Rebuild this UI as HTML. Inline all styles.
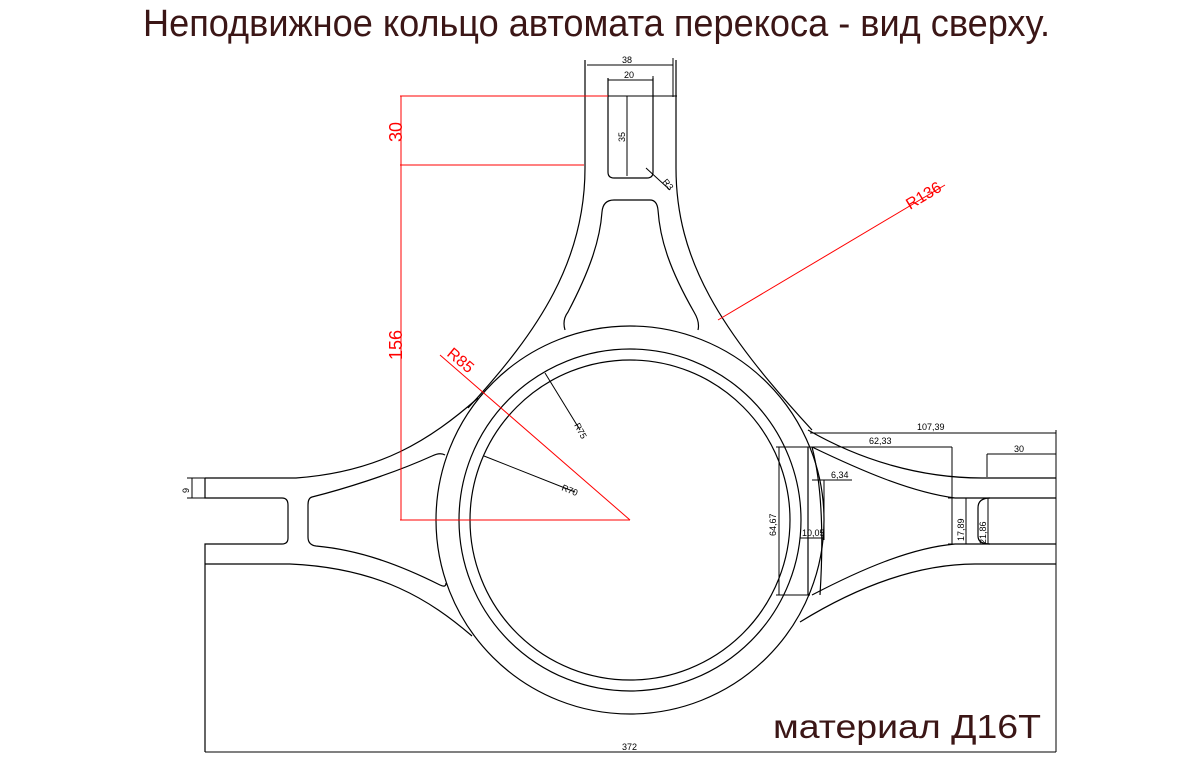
<!DOCTYPE html>
<html><head><meta charset="utf-8"><style>
html,body{margin:0;padding:0;background:#fff;}
svg{display:block;}
</style></head><body>
<svg width="1182" height="784" viewBox="0 0 1182 784" xmlns="http://www.w3.org/2000/svg" font-family="Liberation Sans, sans-serif">
<text x="143" y="36" font-size="38" fill="#3b1616" textLength="907" lengthAdjust="spacingAndGlyphs">Неподвижное кольцо автомата перекоса - вид сверху.</text>

<g fill="none" stroke="#000" stroke-width="1.2">
  <!-- ring circles -->
  <circle cx="630" cy="520" r="194"/>
  <circle cx="630" cy="520" r="171"/>
  <circle cx="630" cy="520" r="160"/>
  <!-- top arm -->
  <line x1="585" y1="60" x2="585" y2="168"/>
  <line x1="676" y1="60" x2="676" y2="168"/>
  <path d="M608,78 V172 Q608,178 614,178 H647 Q653,178 653,172 V78"/>
  <path d="M585,168 C585,260 540,330 468,408"/>
  <path d="M676,168 C676,260 720,330 812,430"/>
  <!-- top pocket -->
  <path d="M565,330 Q562,320 568,312 C590,270 600,240 602,212 Q603,200 614,200 H650 Q657,200 658,210 C660,240 670,270 694,312 Q700,322 698,330"/>
  <!-- left arm -->
  <path d="M205,478 H296 C380,472 430,440 478,398"/>
  <path d="M205,478 V498 H282 Q288,498 288,505 V538 Q288,544 282,544 H205 V752"/>
  <path d="M205,564 H290 C380,568 430,600 472,636"/>
  <path d="M445,455 Q440,452 432,456 C390,475 340,490 312,497 Q308,498 308,505 V537 Q308,545 316,546 C360,550 400,565 440,585 Q446,588 446,583"/>
  <!-- right arm -->
  <path d="M808,430 C860,460 920,478 982,478 H1056"/>
  <path d="M812,447 C860,470 910,492 955,498 H1056"/>
  <path d="M812,595 C860,570 910,548 955,544 H1056"/>
  <path d="M800,622 C860,585 920,564 975,564 H1056"/>
  <path d="M990,498 Q978,498 978,508 V536 Q978,544 990,544"/>
  <line x1="808" y1="447" x2="808" y2="595"/>
  <path d="M812,447 Q826,500 820,595" />
</g>

<!-- black dimensions -->
<g stroke="#000" stroke-width="1" fill="#000" font-size="9">
  <line x1="587" y1="65" x2="673" y2="65"/>
  <line x1="673" y1="58" x2="673" y2="97"/>
  <line x1="608" y1="80" x2="653" y2="80"/>
  <line x1="653" y1="76" x2="653" y2="80"/>
  <line x1="585" y1="96" x2="677" y2="96"/>
  <line x1="627" y1="96" x2="627" y2="176"/>
  <line x1="646" y1="168" x2="670" y2="190"/>
  <line x1="545" y1="373" x2="580" y2="430"/>
  <line x1="484" y1="456" x2="575" y2="492"/>
  <line x1="192" y1="478" x2="192" y2="498"/>
  <line x1="187" y1="478" x2="205" y2="478"/>
  <line x1="187" y1="498" x2="205" y2="498"/>
  <line x1="810" y1="433" x2="1056" y2="433"/>
  <line x1="1056" y1="430" x2="1056" y2="752"/>
  <line x1="812" y1="447" x2="952" y2="447"/>
  <line x1="952" y1="447" x2="952" y2="544"/>
  <line x1="987" y1="454" x2="1056" y2="454"/>
  <line x1="987" y1="454" x2="987" y2="477"/>
  <line x1="812" y1="480" x2="852" y2="480"/>
  <line x1="824" y1="480" x2="824" y2="540"/>
  <line x1="776" y1="447" x2="812" y2="447"/>
  <line x1="776" y1="595" x2="810" y2="595"/>
  <line x1="779" y1="447" x2="779" y2="595"/>
  <line x1="800" y1="538" x2="824" y2="538"/>
  <line x1="948" y1="498" x2="970" y2="498"/>
  <line x1="948" y1="544" x2="970" y2="544"/>
  <line x1="966" y1="498" x2="966" y2="544"/>
  <line x1="980" y1="498" x2="994" y2="498"/>
  <line x1="980" y1="544" x2="994" y2="544"/>
  <line x1="988" y1="498" x2="988" y2="544"/>
  <line x1="205" y1="752" x2="1056" y2="752"/>
  <g stroke="none">
    <text x="622" y="63">38</text>
    <text x="624" y="78">20</text>
    <text transform="translate(625,142) rotate(-90)">35</text>
    <text transform="translate(662,182) rotate(50)">R3</text>
    <text transform="translate(574,425) rotate(62)">R75</text>
    <text transform="translate(561,490) rotate(22)">R70</text>
    <text transform="translate(189,493) rotate(-90)">9</text>
    <text x="917" y="430">107,39</text>
    <text x="869" y="444">62,33</text>
    <text x="1014" y="452">30</text>
    <text x="831" y="478">6,34</text>
    <text transform="translate(776,536) rotate(-90)">64,67</text>
    <text x="802" y="536">10,05</text>
    <text transform="translate(964,541) rotate(-90)">17,89</text>
    <text transform="translate(986,544) rotate(-90)">21,86</text>
    <text x="622" y="750">372</text>
  </g>
</g>

<!-- red dimensions -->
<g stroke="#f00" stroke-width="1" fill="#f00">
  <line x1="400" y1="96" x2="608" y2="96"/>
  <line x1="400" y1="165" x2="584" y2="165"/>
  <line x1="401" y1="96" x2="401" y2="520"/>
  <line x1="400" y1="520" x2="630" y2="520"/>
  <line x1="440" y1="355" x2="630" y2="520"/>
  <line x1="945" y1="185" x2="718" y2="320"/>
  <g stroke="none" font-size="18">
    <text transform="translate(402,142) rotate(-90)">30</text>
    <text transform="translate(402,360) rotate(-90)">156</text>
    <text transform="translate(446,355) rotate(40)" font-size="16">R85</text>
    <text transform="translate(910,210) rotate(-31)" font-size="16">R136</text>
  </g>
</g>

<text x="773" y="738" font-size="33" fill="#3b1616" textLength="268" lengthAdjust="spacingAndGlyphs">материал  Д16Т</text>
</svg>
</body></html>
